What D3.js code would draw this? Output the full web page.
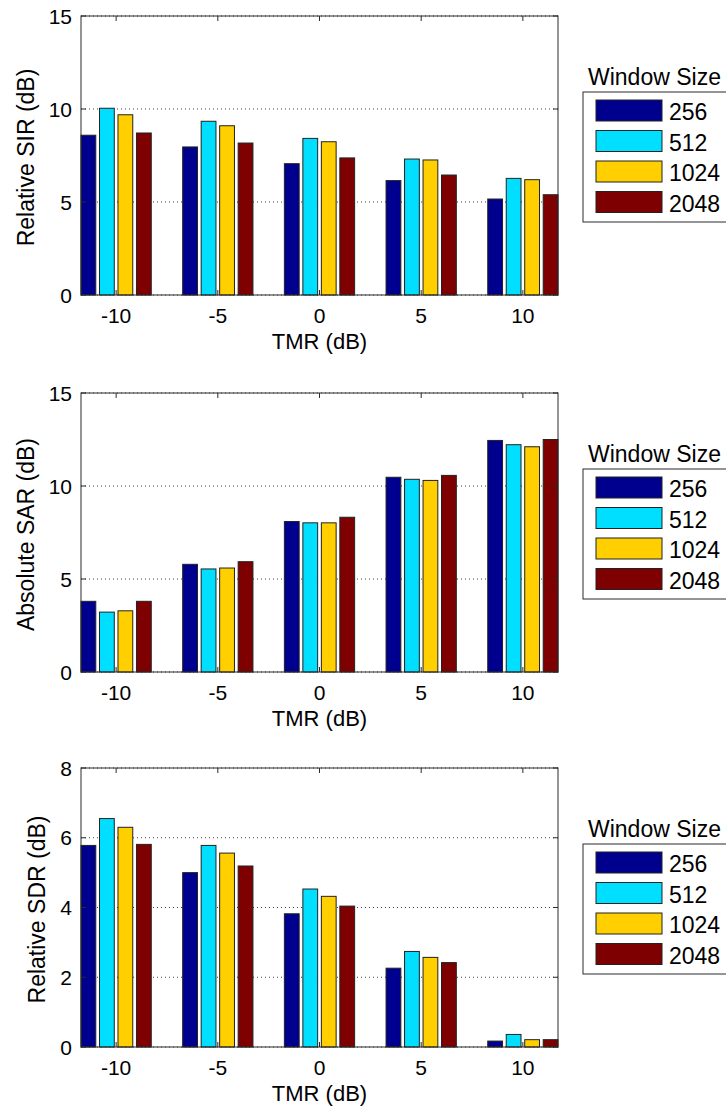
<!DOCTYPE html>
<html>
<head>
<meta charset="utf-8">
<script src="https://cdn.jsdelivr.net/npm/d3@7"></script>
<style>
  html, body { margin: 0; padding: 0; background: #fff; }
  svg { display: block; font-family: "Liberation Sans", Arial, sans-serif; }
</style>
</head>
<body>
<svg id="chart" width="726" height="1112"></svg>
<script>
// TMR conditions on the x axis and STFT window sizes as grouped series
const categories = ["-10", "-5", "0", "5", "10"];
const windowSizes = ["256", "512", "1024", "2048"];
const seriesColors = ["#00008F", "#00DFFF", "#FFCF00", "#7F0000"];

// Relative SIR (dB), one row per window size, one column per TMR
const sir256  = [8.59, 7.96, 7.06, 6.15, 5.16];
const sir512  = [10.04, 9.34, 8.42, 7.31, 6.27];
const sir1024 = [9.69, 9.10, 8.24, 7.26, 6.20];
const sir2048 = [8.71, 8.17, 7.37, 6.45, 5.39];

// Absolute SAR (dB)
const sar256  = [3.80, 5.79, 8.09, 10.47, 12.45];
const sar512  = [3.22, 5.54, 8.02, 10.36, 12.22];
const sar1024 = [3.29, 5.59, 8.02, 10.30, 12.11];
const sar2048 = [3.80, 5.93, 8.32, 10.57, 12.50];

// Relative SDR (dB)
const sdr256  = [5.78, 5.00, 3.82, 2.26, 0.17];
const sdr512  = [6.55, 5.78, 4.53, 2.74, 0.36];
const sdr1024 = [6.30, 5.56, 4.32, 2.57, 0.21];
const sdr2048 = [5.81, 5.19, 4.04, 2.42, 0.21];

// Axis tick values
const ticks15 = [0, 5, 10, 15];
const ticks8 = [0, 2, 4, 6, 8];

const panels = [
  { label: "Relative SIR (dB)", values: [sir256, sir512, sir1024, sir2048], yMax: 15, ticks: ticks15, top: 16 },
  { label: "Absolute SAR (dB)", values: [sar256, sar512, sar1024, sar2048], yMax: 15, ticks: ticks15, top: 393 },
  { label: "Relative SDR (dB)", values: [sdr256, sdr512, sdr1024, sdr2048], yMax: 8, ticks: ticks8, top: 768 }
];

const svg = d3.select("#chart");
const left = 81, right = 558, plotH = 279;
const tickLen = 5;
const axisColor = "#2b2b2b";

// Grouped bars: group width 4/5.5 of a category, bars 80% of their slot
const groupHalf = 4 / 5.5 / 2;
const slot = (4 / 5.5) / 4;
const margin = groupHalf - slot * 0.1;
const x = d3.scaleLinear().domain([1 - margin, categories.length + margin]).range([left, right]);
// Offset of each series inside its group, in category units
const inner = d3.scaleBand().domain(windowSizes)
  .range([-groupHalf, groupHalf]).paddingInner(0.2).paddingOuter(0.1);
const barW = x(inner.bandwidth()) - x(0);

panels.forEach(p => {
  const top = p.top, bottom = top + plotH;
  const y = d3.scaleLinear().domain([0, p.yMax]).range([bottom, top]);
  const g = svg.append("g");

  // dotted grid at y ticks
  g.append("g").selectAll("line").data(p.ticks).join("line")
    .attr("x1", left).attr("x2", right)
    .attr("y1", d => y(d)).attr("y2", d => y(d))
    .attr("stroke", "#444").attr("stroke-width", 1)
    .attr("stroke-dasharray", "1,3");

  // bars
  windowSizes.forEach((s, si) => {
    g.append("g").selectAll("rect").data(p.values[si]).join("rect")
      .attr("x", (d, i) => x(i + 1 + inner(s)))
      .attr("y", d => y(d))
      .attr("width", barW)
      .attr("height", d => y(0) - y(d))
      .attr("fill", seriesColors[si])
      .attr("stroke", "#222")
      .attr("stroke-width", 1);
  });

  // axes box
  g.append("rect")
    .attr("x", left).attr("y", top)
    .attr("width", right - left).attr("height", plotH)
    .attr("fill", "none").attr("stroke", axisColor).attr("stroke-width", 1);

  // y ticks (inward on both sides)
  const yt = g.append("g");
  p.ticks.forEach(t => {
    yt.append("line").attr("x1", left).attr("x2", left + tickLen)
      .attr("y1", y(t)).attr("y2", y(t)).attr("stroke", axisColor);
    yt.append("line").attr("x1", right).attr("x2", right - tickLen)
      .attr("y1", y(t)).attr("y2", y(t)).attr("stroke", axisColor);
  });
  const yLabels = g.append("g").selectAll("text").data(p.ticks).join("text")
    .attr("x", left - 9).attr("y", d => y(d)).attr("dy", "0.36em")
    .attr("text-anchor", "end").attr("font-size", 21).attr("fill", "#000")
    .text(d => d);

  // x ticks (inward top and bottom)
  categories.forEach((c, i) => {
    const cx = x(i + 1);
    g.append("line").attr("x1", cx).attr("x2", cx)
      .attr("y1", bottom).attr("y2", bottom - tickLen).attr("stroke", axisColor);
    g.append("line").attr("x1", cx).attr("x2", cx)
      .attr("y1", top).attr("y2", top + tickLen).attr("stroke", axisColor);
    g.append("text").attr("x", cx).attr("y", bottom + 28)
      .attr("text-anchor", "middle").attr("font-size", 21).text(c);
  });

  // axis titles
  g.append("text").attr("x", (left + right) / 2).attr("y", bottom + 54)
    .attr("text-anchor", "middle").attr("font-size", 22).text("TMR (dB)");

  let minX = Infinity;
  yLabels.each(function () { minX = Math.min(minX, this.getBBox().x); });
  const lx = minX - 15;
  const ly = (top + bottom) / 2 + 2;
  g.append("text").attr("transform", `translate(${lx},${ly}) rotate(-90)`)
    .attr("text-anchor", "middle").attr("font-size", 23).text(p.label);

  // legend
  const lg = g.append("g").attr("transform", `translate(583,${top + 76})`);
  lg.append("text").attr("x", 5).attr("y", -7).attr("font-size", 23).text("Window Size");
  lg.append("rect").attr("x", 0).attr("y", 0).attr("width", 160).attr("height", 130)
    .attr("fill", "#fff").attr("stroke", axisColor).attr("stroke-width", 1);
  windowSizes.forEach((s, si) => {
    const sy = 8 + si * 30.5;
    lg.append("rect").attr("x", 13).attr("y", sy).attr("width", 66).attr("height", 21)
      .attr("fill", seriesColors[si]).attr("stroke", "#222").attr("stroke-width", 1);
    lg.append("text").attr("x", 86).attr("y", sy + 20).attr("font-size", 23).text(s);
  });
});
</script>
</body>
</html>
